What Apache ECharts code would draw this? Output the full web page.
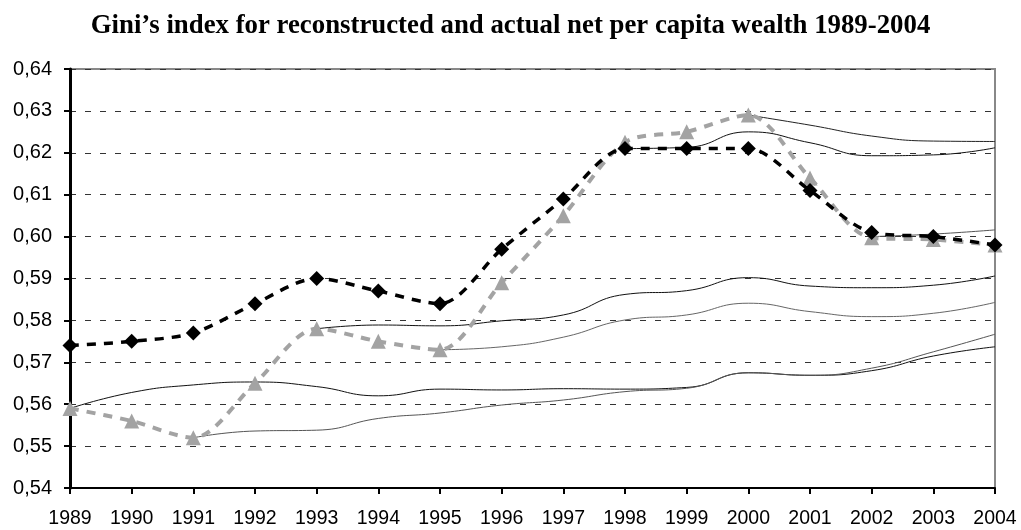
<!DOCTYPE html>
<html>
<head>
<meta charset="utf-8">
<script src="https://cdn.jsdelivr.net/npm/echarts@6/dist/echarts.min.js"></script>
<style>html,body{margin:0;padding:0;background:#fff;}#chart{width:1021px;height:530px;}</style>
</head>
<body>
<div id="chart"></div>
<script>
var years = ['1989','1990','1991','1992','1993','1994','1995','1996','1997','1998','1999','2000','2001','2002','2003','2004'];
var yTicks = [0.54,0.55,0.56,0.57,0.58,0.59,0.60,0.61,0.62,0.63,0.64];
var actual = [0.574,0.575,0.577,0.584,0.590,0.587,0.584,0.597,0.609,0.621,0.621,0.621,0.611,0.601,0.600,0.598];
var reconstructed = [0.559,0.556,0.552,0.565,0.578,0.575,0.573,0.589,0.605,0.6225,0.625,0.629,0.614,0.5997,0.5993,0.598];
var path1989 = [0.559,0.5628,0.5646,0.5653,0.5642,0.5620,0.5636,0.5634,0.5637,0.5636,0.5640,0.5675,0.5669,0.5680,0.5715,0.5737];
var path1991 = [null,null,0.552,0.5536,0.5538,0.5566,0.5579,0.5598,0.5610,0.5630,0.5638,0.5675,0.5669,0.5686,0.5725,0.5767];
var path1993 = [null,null,null,null,0.578,0.5789,0.5787,0.5799,0.5813,0.5862,0.5871,0.5902,0.5882,0.5878,0.5884,0.5906];
var path1995 = [null,null,null,null,null,null,0.573,0.5737,0.5760,0.5801,0.5813,0.5841,0.5821,0.5809,0.5817,0.5843];
var path1998 = [null,null,null,null,null,null,null,null,null,0.621,0.6213,0.6250,0.6224,0.6193,0.6195,0.6212];
var path2000 = [null,null,null,null,null,null,null,null,null,null,null,0.629,0.6266,0.6240,0.6228,0.6227];
var path2002 = [null,null,null,null,null,null,null,null,null,null,null,null,null,0.600,0.6006,0.6016];

var thinPaths = [
  {d: path1989, c: '#111'},
  {d: path1991, c: '#555'},
  {d: path1993, c: '#111'},
  {d: path1995, c: '#666'},
  {d: path1998, c: '#111'},
  {d: path2000, c: '#222'},
  {d: path2002, c: '#555'}
];

var series = thinPaths.map(function (p) {
  return {
    type: 'line', data: p.d, smooth: 0.5, showSymbol: false, symbol: 'none',
    lineStyle: {color: p.c, width: 1}, silent: true, z: 2
  };
});
series.push({
  type: 'line', name: 'reconstructed', data: reconstructed, smooth: 0.3,
  symbol: 'triangle', symbolSize: 15,
  itemStyle: {color: '#a3a3a3'},
  lineStyle: {color: '#a3a3a3', width: 4, type: [9, 8]}, z: 3
});
series.push({
  type: 'line', name: 'actual', data: actual, smooth: 0.3,
  symbol: 'diamond', symbolSize: 15,
  itemStyle: {color: '#000'},
  lineStyle: {color: '#000', width: 3.5, type: [9, 8]}, z: 4
});

var chart = echarts.init(document.getElementById('chart'), null, {renderer: 'canvas'});
chart.setOption({
  animation: false,
  backgroundColor: '#fff',
  title: {
    text: 'Gini\u2019s index for reconstructed and actual net per capita wealth 1989-2004',
    left: 'center', top: 8,
    textStyle: {fontFamily: 'Liberation Serif', fontWeight: 'bold', fontSize: 26.8, color: '#000'}
  },
  grid: {left: 70, right: 26, top: 69, bottom: 42, show: true, borderColor: '#888', borderWidth: 2, backgroundColor: 'transparent'},
  xAxis: {
    type: 'category', data: years, boundaryGap: false,
    axisLine: {lineStyle: {color: '#000', width: 2}},
    axisTick: {show: true, length: 6, lineStyle: {color: '#000', width: 2}, alignWithLabel: true},
    axisLabel: {fontFamily: 'Liberation Sans', fontSize: 19.5, color: '#000', margin: 21},
    splitLine: {show: false}
  },
  yAxis: {
    type: 'value', min: yTicks[0], max: yTicks[yTicks.length - 1], interval: 0.01,
    axisLine: {show: true, lineStyle: {color: '#000', width: 3}},
    axisTick: {show: true, length: 6, lineStyle: {color: '#000', width: 2}},
    axisLabel: {fontFamily: 'Liberation Sans', fontSize: 20, color: '#000', margin: 18,
      formatter: function (v) { return v.toFixed(2).replace('.', ','); }},
    splitLine: {show: true, lineStyle: {color: '#333', width: 1, type: [6, 9]}}
  },
  series: series
});
</script>
</body>
</html>
